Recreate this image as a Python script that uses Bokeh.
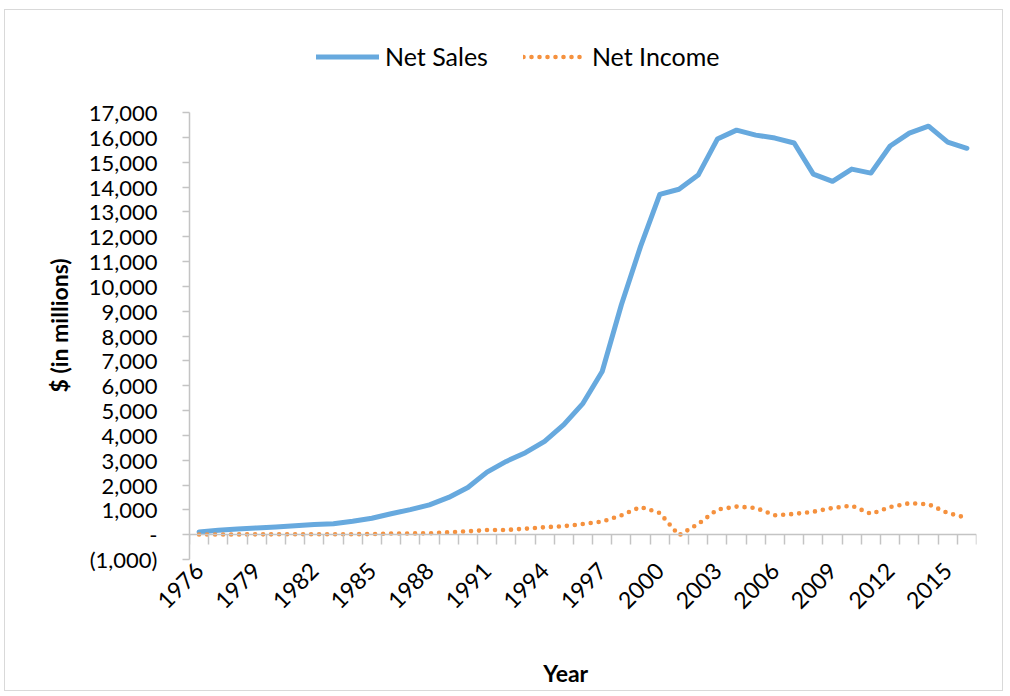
import math
from bokeh.plotting import figure
from bokeh.models import (LinearAxis, FixedTicker, CustomJSTickFormatter, Legend,
                          LegendItem, Range1d)
from bokeh.embed import file_html
from bokeh.resources import INLINE

years = list(range(1976, 2017))
net_sales = [110, 180, 230, 270, 310, 360, 410, 440, 540, 660,
             840, 1010, 1200, 1500, 1900, 2520, 2950, 3300, 3760, 4430,
             5290, 6570, 9260, 11610, 13700, 13910, 14480, 15930, 16290, 16090,
             15970, 15770, 14520, 14230, 14720, 14560, 15650, 16170, 16450, 15810,
             15560]
net_income = [5, 8, 10, 12, 14, 16, 18, 16, 20, 25,
              45, 50, 55, 95, 135, 185, 190, 240, 300, 340,
              430, 525, 780, 1115, 875, -25, 430, 1010, 1130, 1075,
              780, 835, 925, 1075, 1170, 835, 1115, 1265, 1225, 875,
              675]
y_ticks = list(range(-1000, 18000, 1000))
x_label_years = list(range(1976, 2017, 3))
x_tick_marks = [y - 0.5 for y in years] + [years[-1] + 0.5]

FONT = "Lato"
AXIS_GRAY = "#c4c4c4"
EM = "\u2003"

# layout: axis area 447px tall, plus 90px headroom for the legend
AXIS_PX = 447
HEAD_PX = 90
y_min, y_max = y_ticks[0], y_ticks[-1]
y_top = y_max + (y_max - y_min) * HEAD_PX / AXIS_PX

p = figure(frame_width=787, frame_height=AXIS_PX + HEAD_PX,
           output_backend="svg", toolbar_location=None,
           x_range=Range1d(years[0] - 0.5, years[-1] + 0.5),
           y_range=Range1d(y_min, y_top),
           x_axis_type=None, y_axis_type=None,
           min_border_left=184, min_border_right=26,
           min_border_top=12, min_border_bottom=127)
p.outline_line_color = None
p.xgrid.visible = False
p.ygrid.visible = False
p.styles = {"border": "1px solid #d9d9d9", "margin-left": "4px", "margin-top": "9px"}

# y axis
yaxis = LinearAxis(ticker=FixedTicker(ticks=y_ticks), bounds=(y_min, y_max),
                   formatter=CustomJSTickFormatter(code="""
                       if (tick == 0) { return "-"; }
                       var s = Math.abs(tick).toLocaleString('en-US');
                       return tick < 0 ? "(" + s + ")" : s;
                   """),
                   axis_label="$ (in millions)" + EM * 4)
yaxis.axis_line_color = AXIS_GRAY
yaxis.axis_line_width = 1.5
yaxis.major_tick_line_color = AXIS_GRAY
yaxis.major_tick_line_width = 1.5
yaxis.major_tick_in = 0
yaxis.major_tick_out = 7
yaxis.minor_tick_line_color = None
yaxis.major_label_standoff = 25
yaxis.major_label_text_font = FONT
yaxis.major_label_text_font_size = "22px"
yaxis.major_label_text_color = "#000000"
yaxis.axis_label_text_font = FONT
yaxis.axis_label_text_font_size = "23px"
yaxis.axis_label_text_font_style = "bold"
yaxis.axis_label_text_color = "#000000"
yaxis.axis_label_standoff = 13
p.add_layout(yaxis, "left")

# x labels axis (at bottom of frame)
xaxis = LinearAxis(ticker=FixedTicker(ticks=x_label_years), axis_label="Year" + EM * 2,
                   major_label_orientation=math.pi / 4)
xaxis.axis_line_color = None
xaxis.major_tick_line_color = None
xaxis.minor_tick_line_color = None
xaxis.major_label_standoff = 1
xaxis.major_label_text_font = FONT
xaxis.major_label_text_font_size = "23px"
xaxis.major_label_text_color = "#000000"
xaxis.axis_label_text_font = FONT
xaxis.axis_label_text_font_size = "23px"
xaxis.axis_label_text_font_style = "bold"
xaxis.axis_label_text_color = "#000000"
xaxis.axis_label_standoff = 40
p.add_layout(xaxis, "below")

# x axis line + category tick marks crossing at zero
zaxis = LinearAxis(ticker=FixedTicker(ticks=x_tick_marks), fixed_location=0,
                   formatter=CustomJSTickFormatter(code="return '';"))
zaxis.axis_line_color = AXIS_GRAY
zaxis.axis_line_width = 1.5
zaxis.major_tick_line_color = AXIS_GRAY
zaxis.major_tick_line_width = 1.5
zaxis.major_tick_in = 10
zaxis.major_tick_out = 0
zaxis.minor_tick_line_color = None
zaxis.major_label_text_font_size = "0px"
p.add_layout(zaxis, "above")

r_sales = p.line(years, net_sales, line_color="#67A9DE", line_width=5,
                 line_join="round", line_cap="round")
r_income = p.line(years, net_income, line_color="#F5913E", line_width=4.6,
                  line_dash="0 8", line_cap="round", line_join="round")

legend = Legend(items=[LegendItem(label="Net Sales", renderers=[r_sales]),
                       LegendItem(label="Net Income", renderers=[r_income])],
                orientation="horizontal",
                location=(127, AXIS_PX + HEAD_PX - 49))
legend.padding = 0
legend.margin = 0
legend.spacing = 35
legend.label_standoff = 6
legend.glyph_width = 63
legend.glyph_height = 25
legend.label_height = 25
legend.label_text_font = FONT
legend.label_text_font_size = "25px"
legend.label_text_color = "#000000"
legend.border_line_color = None
legend.background_fill_alpha = 0
p.add_layout(legend, "center")

open("out.html", "w").write(file_html(p, INLINE))
